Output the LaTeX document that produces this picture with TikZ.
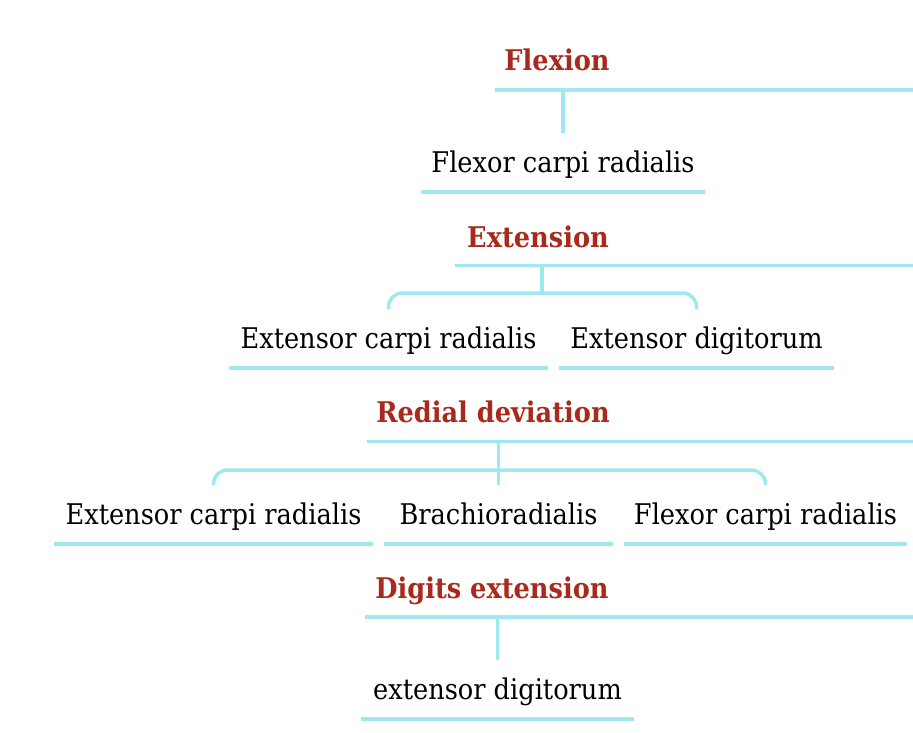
\documentclass[tikz,border=0pt]{standalone}
\usepackage{fontspec}
\setmainfont{DejaVu Serif Condensed}
\usetikzlibrary{calc}
\definecolor{linkcyan}{RGB}{160,232,240}
\definecolor{headred}{RGB}{168,42,28}

\begin{document}
\begin{tikzpicture}[
  x=1pt, y=-1pt,
  font=\fontsize{28.5}{32}\selectfont, line width=3.5pt,
  heading/.style={anchor=base, text=headred, font=\fontsize{28.5}{32}\selectfont\bfseries, inner sep=0pt},
  muscle/.style={anchor=base, text height=19pt, text depth=0pt, inner ysep=18pt, inner xsep=0pt},
  rule/.style={draw=linkcyan, line width=3.5pt}
]
\useasboundingbox (0,0) rectangle (913,733);

\node[heading] (flex) at (557,71) {Flexion};
\node[heading] (ext) at (538,247) {Extension};
\node[heading] (dev) at (493,422) {Redial deviation};
\node[heading] (dig) at (492,598) {Digits extension};

\coordinate (flexL) at (495,90);
\coordinate (flexR) at (913,90);
\coordinate (extL) at (455,265.5);
\coordinate (extR) at (913,265.5);
\coordinate (devL) at (367,441.5);
\coordinate (devR) at (913,441.5);
\coordinate (digL) at (365,617);
\coordinate (digR) at (913,617);

\node[muscle, minimum width=280pt] (fcr1) at (563,172) {Flexor carpi radialis};
\node[muscle, minimum width=315pt] (ecr2) at (388.5,348) {Extensor carpi radialis};
\node[muscle, minimum width=271pt] (ed2) at (696.5,348) {Extensor digitorum};
\node[muscle, minimum width=315pt] (ecr3) at (213.5,524) {Extensor carpi radialis};
\node[muscle, minimum width=225pt] (br3) at (498.5,524) {Brachioradialis};
\node[muscle, minimum width=279pt] (fcr3) at (765.5,524) {Flexor carpi radialis};
\node[muscle, minimum width=269pt] (ed4) at (497.5,699) {extensor digitorum};

\coordinate (extJ) at (542,293);
\coordinate (devJ) at (497,470);

% heading lines
\draw[rule] (flexL) -- (flexR);
\draw[rule] (extL) -- (extR);
\draw[rule] (devL) -- (devR);
\draw[rule] (digL) -- (digR);

% underlines
\draw[rule] (fcr1.south west) -- (fcr1.south east);
\draw[rule] (ecr2.south west) -- (ecr2.south east);
\draw[rule] (ed2.south west) -- (ed2.south east);
\draw[rule] (ecr3.south west) -- (ecr3.south east);
\draw[rule] (br3.south west) -- (br3.south east);
\draw[rule] (fcr3.south west) -- (fcr3.south east);
\draw[rule] (ed4.south west) -- (ed4.south east);

% links
\draw[rule] (fcr1.north |- flexL) -- (fcr1.north);
\draw[rule] (extJ |- extL) -- (extJ);
\draw[rule, rounded corners=14pt] (ecr2.north) |- (extJ) -| (ed2.north);
\draw[rule] (br3.north |- devL) -- (br3.north);
\draw[rule, rounded corners=14pt] (ecr3.north) |- (devJ) -| (fcr3.north);
\draw[rule] (ed4.north |- digL) -- (ed4.north);

\end{tikzpicture}
\end{document}
